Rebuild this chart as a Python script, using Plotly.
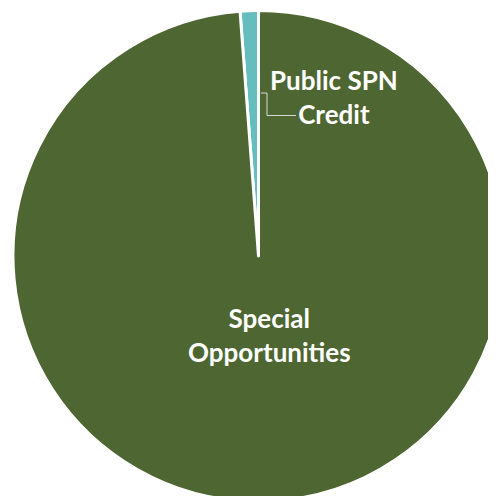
import plotly.graph_objects as go

# Portfolio split (percent of total)
labels = ['Public SPN Credit', 'Special Opportunities']
values = [1.2, 98.8]
colors = ['#66BDBD', '#4E6631']

fig = go.Figure(go.Pie(
    labels=labels,
    values=values,
    sort=False,
    direction='clockwise',
    rotation=-4.32,
    marker=dict(colors=colors, line=dict(color='#FFFFFF', width=3)),
    textinfo='none',
    hoverinfo='label+percent',
    showlegend=False,
))

label_font = dict(family='Lato, sans-serif', size=26, color='#FFFFFF')

# slice labels placed like the original (Excel-style data labels)
fig.add_annotation(x=269, y=335, xref='x', yref='y', text='<b>Special<br>Opportunities</b>',
                   showarrow=False, font=label_font, align='center')
fig.add_annotation(x=334, y=97, xref='x', yref='y', text='<b>Public SPN<br>Credit</b>',
                   showarrow=False, font=label_font, align='center')

# leader line for the small slice
fig.add_shape(type='path', xref='x', yref='y',
              path='M 261 93 L 267 93 L 267 115.5 L 296 115.5',
              line=dict(color='#D9D9D9', width=1))

# axes in page pixels (page has an 8px body offset)
fig.update_xaxes(range=[13, 504], visible=False)
fig.update_yaxes(range=[504, 8], visible=False)

fig.update_layout(
    width=496,
    height=496,
    margin=dict(l=5, r=0, t=0, b=0),
    paper_bgcolor='#FFFFFF',
    plot_bgcolor='rgba(0,0,0,0)',
)
fig.write_html("out.html")
